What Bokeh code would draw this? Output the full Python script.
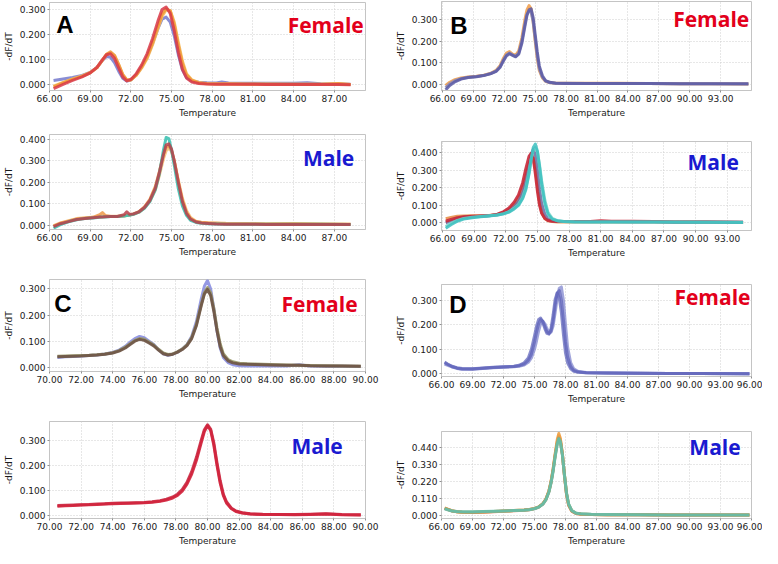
from bokeh.plotting import figure
from bokeh.layouts import row, column
from bokeh.models import Range1d, FixedTicker, PrintfTickFormatter, Label
from bokeh.embed import file_html
from bokeh.resources import INLINE

# ---------------- data ----------------
# Panel A - Female
T_AF = [66.3, 67.0, 67.7, 68.4, 69.0, 69.5, 69.9, 70.2, 70.5, 70.8, 71.1, 71.4, 71.7, 72.0, 72.4, 72.8, 73.2, 73.6,
        74.0, 74.3, 74.6, 74.9, 75.2, 75.5, 75.8, 76.1, 76.5, 77.0, 77.6, 78.3, 78.7, 79.2, 80.5, 82.0, 84.0, 85.0,
        86.0, 87.3, 88.2]
AF_BLUE = [0.018, 0.024, 0.030, 0.038, 0.050, 0.070, 0.098, 0.113, 0.110, 0.088, 0.055, 0.027, 0.016, 0.020, 0.040,
           0.072, 0.110, 0.165, 0.225, 0.262, 0.270, 0.250, 0.195, 0.120, 0.060, 0.030, 0.016, 0.011, 0.009, 0.008,
           0.012, 0.008, 0.007, 0.007, 0.007, 0.009, 0.005, 0.004, 0.003]
AF_LORANGE = [-0.005, 0.010, 0.024, 0.036, 0.050, 0.070, 0.100, 0.122, 0.128, 0.115, 0.080, 0.040, 0.020, 0.020, 0.038,
              0.068, 0.105, 0.160, 0.225, 0.272, 0.298, 0.296, 0.250, 0.170, 0.095, 0.045, 0.020, 0.010, 0.006, 0.005,
              0.005, 0.005, 0.004, 0.004, 0.003, 0.003, 0.003, 0.004, 0.002]
AF_ORANGE = [-0.008, 0.008, 0.022, 0.034, 0.048, 0.068, 0.098, 0.122, 0.132, 0.118, 0.082, 0.042, 0.020, 0.020, 0.040,
             0.072, 0.112, 0.168, 0.235, 0.282, 0.303, 0.295, 0.240, 0.158, 0.085, 0.040, 0.018, 0.008, 0.005, 0.004,
             0.004, 0.004, 0.003, 0.003, 0.003, 0.003, 0.003, 0.006, 0.002]
AF_RED = [-0.015, 0.002, 0.018, 0.032, 0.048, 0.070, 0.100, 0.120, 0.124, 0.105, 0.068, 0.032, 0.016, 0.022, 0.045,
          0.080, 0.125, 0.185, 0.255, 0.300, 0.310, 0.285, 0.215, 0.130, 0.062, 0.028, 0.012, 0.006, 0.004, 0.003,
          0.003, 0.003, 0.003, 0.002, 0.002, 0.002, 0.002, 0.002, 0.001]

# Panel A - Male
T_AM = [66.3, 66.8, 67.4, 68.0, 68.6, 69.2, 69.7, 69.9, 70.1, 70.5, 71.0, 71.5, 71.7, 71.9, 72.2, 72.6, 73.0, 73.4,
        73.8, 74.1, 74.4, 74.6, 74.8, 75.0, 75.2, 75.5, 75.8, 76.1, 76.4, 76.8, 77.2, 77.7, 78.3, 79.0, 80.5, 82.0,
        84.0, 86.0, 88.2]
AM_LORANGE = [-0.003, 0.010, 0.020, 0.030, 0.034, 0.036, 0.038, 0.039, 0.040, 0.041, 0.041, 0.043, 0.045, 0.047, 0.051,
              0.060, 0.080, 0.112, 0.165, 0.232, 0.310, 0.348, 0.360, 0.345, 0.300, 0.210, 0.125, 0.068, 0.035, 0.018,
              0.013, 0.011, 0.010, 0.008, 0.007, 0.006, 0.007, 0.005, 0.004]
AM_ORANGE = [-0.005, 0.008, 0.018, 0.028, 0.032, 0.036, 0.048, 0.058, 0.045, 0.040, 0.040, 0.042, 0.045, 0.047, 0.052,
             0.063, 0.085, 0.120, 0.180, 0.250, 0.330, 0.365, 0.370, 0.350, 0.300, 0.200, 0.115, 0.060, 0.030, 0.016,
             0.012, 0.010, 0.008, 0.006, 0.005, 0.005, 0.006, 0.005, 0.004]
AM_TEAL = [-0.015, 0.002, 0.015, 0.025, 0.030, 0.033, 0.036, 0.037, 0.038, 0.040, 0.040, 0.042, 0.044, 0.046, 0.050,
           0.060, 0.078, 0.110, 0.165, 0.240, 0.350, 0.410, 0.405, 0.350, 0.280, 0.170, 0.090, 0.045, 0.022, 0.012,
           0.008, 0.006, 0.005, 0.004, 0.004, 0.004, 0.004, 0.004, 0.003]
AM_RED = [-0.008, 0.006, 0.016, 0.026, 0.031, 0.034, 0.037, 0.038, 0.039, 0.040, 0.040, 0.048, 0.062, 0.050, 0.052,
          0.062, 0.082, 0.115, 0.172, 0.245, 0.330, 0.375, 0.380, 0.355, 0.300, 0.200, 0.110, 0.055, 0.028, 0.014,
          0.009, 0.007, 0.005, 0.004, 0.004, 0.003, 0.003, 0.003, 0.003]

# Panel B - Female
T_BF = [66.3, 66.7, 67.2, 67.8, 68.5, 69.3, 70.0, 70.7, 71.2, 71.6, 71.9, 72.2, 72.5, 72.8, 73.1, 73.4, 73.7, 74.0,
        74.2, 74.4, 74.6, 74.8, 75.0, 75.2, 75.4, 75.7, 76.0, 76.4, 77.0, 78.0, 80.0, 83.0, 86.0, 89.0, 92.0, 95.7]
BF_ORANGE = [-0.005, 0.010, 0.022, 0.030, 0.034, 0.038, 0.043, 0.052, 0.065, 0.088, 0.120, 0.145, 0.152, 0.140, 0.135,
             0.155, 0.215, 0.300, 0.345, 0.365, 0.350, 0.290, 0.200, 0.120, 0.065, 0.030, 0.015, 0.009, 0.006, 0.005,
             0.005, 0.005, 0.004, 0.003, 0.003, 0.002]
BF_GREY = [-0.015, 0.003, 0.017, 0.027, 0.033, 0.037, 0.042, 0.051, 0.062, 0.083, 0.112, 0.136, 0.145, 0.137, 0.130,
           0.145, 0.200, 0.280, 0.325, 0.340, 0.335, 0.290, 0.210, 0.130, 0.072, 0.034, 0.016, 0.009, 0.006, 0.005,
           0.004, 0.004, 0.004, 0.003, 0.003, 0.002]
BF_BLUE = [-0.025, -0.005, 0.012, 0.025, 0.032, 0.036, 0.041, 0.050, 0.060, 0.080, 0.108, 0.132, 0.142, 0.135, 0.128,
           0.140, 0.190, 0.270, 0.320, 0.345, 0.350, 0.310, 0.230, 0.150, 0.085, 0.040, 0.018, 0.010, 0.006, 0.004,
           0.004, 0.004, 0.004, 0.003, 0.003, 0.003]

# Panel B - Male
T_BM = [66.3, 66.8, 67.4, 68.0, 68.8, 69.6, 70.4, 71.2, 71.8, 72.3, 72.8, 73.2, 73.6, 73.9, 74.2, 74.4, 74.6, 74.8,
        75.0, 75.2, 75.4, 75.7, 76.0, 76.4, 76.9, 77.5, 78.5, 80.0, 81.0, 82.0, 84.0, 86.0, 88.0, 91.0, 94.5]
BM_ORANGE = [0.025, 0.032, 0.038, 0.040, 0.041, 0.041, 0.042, 0.048, 0.060, 0.077, 0.105, 0.140, 0.200, 0.270, 0.340,
             0.370, 0.370, 0.310, 0.210, 0.120, 0.060, 0.025, 0.012, 0.008, 0.006, 0.006, 0.006, 0.006, 0.006, 0.006,
             0.005, 0.005, 0.005, 0.004, 0.003]
BM_GREY = [0.000, 0.012, 0.025, 0.032, 0.036, 0.039, 0.041, 0.047, 0.057, 0.070, 0.095, 0.125, 0.175, 0.240, 0.330,
           0.390, 0.420, 0.390, 0.300, 0.190, 0.110, 0.050, 0.022, 0.013, 0.010, 0.009, 0.009, 0.008, 0.009, 0.008,
           0.007, 0.007, 0.006, 0.005, 0.004]
BM_RED = [0.010, 0.020, 0.030, 0.035, 0.038, 0.040, 0.042, 0.050, 0.065, 0.085, 0.120, 0.160, 0.230, 0.310, 0.380,
          0.398, 0.370, 0.280, 0.180, 0.100, 0.055, 0.025, 0.014, 0.010, 0.008, 0.008, 0.008, 0.009, 0.013, 0.010,
          0.010, 0.008, 0.006, 0.005, 0.004]
BM_LTEAL = [-0.020, -0.002, 0.015, 0.026, 0.032, 0.037, 0.041, 0.046, 0.053, 0.064, 0.085, 0.105, 0.145, 0.200, 0.290,
            0.365, 0.415, 0.430, 0.405, 0.330, 0.240, 0.130, 0.060, 0.026, 0.013, 0.009, 0.007, 0.006, 0.006, 0.006,
            0.006, 0.005, 0.005, 0.004, 0.004]
BM_TEAL = [-0.030, -0.010, 0.010, 0.022, 0.030, 0.035, 0.040, 0.045, 0.052, 0.062, 0.080, 0.100, 0.140, 0.190, 0.280,
           0.360, 0.430, 0.450, 0.410, 0.320, 0.220, 0.110, 0.050, 0.022, 0.012, 0.008, 0.006, 0.005, 0.005, 0.005,
           0.005, 0.005, 0.004, 0.004, 0.003]

# Panel C - Female
T_CF = [70.5, 71.0, 71.5, 72.0, 72.5, 73.0, 73.5, 74.0, 74.4, 74.8, 75.1, 75.4, 75.7, 76.0, 76.3, 76.6, 76.9, 77.2,
        77.5, 77.8, 78.1, 78.4, 78.7, 79.0, 79.3, 79.6, 79.8, 80.0, 80.2, 80.4, 80.6, 80.8, 81.0, 81.3, 81.6, 82.0,
        82.5, 83.0, 84.0, 85.0, 85.8, 86.5, 87.5, 88.5, 89.7]
CF_BLUE = [0.038, 0.040, 0.041, 0.043, 0.045, 0.047, 0.051, 0.057, 0.066, 0.080, 0.096, 0.110, 0.118, 0.113, 0.100,
           0.087, 0.068, 0.052, 0.046, 0.050, 0.058, 0.070, 0.087, 0.118, 0.175, 0.260, 0.310, 0.332, 0.300, 0.225,
           0.140, 0.075, 0.038, 0.018, 0.010, 0.006, 0.005, 0.005, 0.005, 0.005, 0.010, 0.005, 0.004, 0.004, 0.003]
CF_OLIVE = [0.042, 0.043, 0.044, 0.045, 0.046, 0.048, 0.051, 0.056, 0.064, 0.077, 0.090, 0.103, 0.110, 0.107, 0.097,
            0.085, 0.069, 0.055, 0.049, 0.051, 0.059, 0.070, 0.086, 0.114, 0.165, 0.240, 0.285, 0.305, 0.285, 0.225,
            0.150, 0.090, 0.052, 0.030, 0.021, 0.016, 0.014, 0.013, 0.011, 0.009, 0.008, 0.007, 0.006, 0.005, 0.004]
CF_BROWN = [0.040, 0.041, 0.042, 0.043, 0.045, 0.047, 0.050, 0.055, 0.062, 0.074, 0.087, 0.100, 0.107, 0.103, 0.093,
            0.082, 0.066, 0.052, 0.047, 0.050, 0.058, 0.068, 0.083, 0.110, 0.160, 0.235, 0.280, 0.298, 0.275, 0.215,
            0.140, 0.080, 0.045, 0.025, 0.017, 0.013, 0.012, 0.011, 0.009, 0.008, 0.008, 0.006, 0.005, 0.005, 0.004]

# Panel C - Male
T_CM = [70.5, 71.0, 71.5, 72.0, 72.5, 73.0, 73.5, 74.0, 74.5, 75.0, 75.5, 76.0, 76.5, 77.0, 77.4, 77.8, 78.1, 78.4,
        78.7, 79.0, 79.3, 79.6, 79.8, 80.0, 80.2, 80.4, 80.6, 80.8, 81.0, 81.2, 81.5, 81.8, 82.2, 82.7, 83.5, 84.5,
        85.5, 86.5, 87.5, 88.5, 89.7]
CM_RED1 = [0.037, 0.039, 0.040, 0.042, 0.043, 0.044, 0.046, 0.047, 0.048, 0.049, 0.050, 0.051, 0.053, 0.057, 0.062,
           0.070, 0.080, 0.097, 0.125, 0.165, 0.220, 0.290, 0.335, 0.358, 0.340, 0.280, 0.200, 0.130, 0.080, 0.050,
           0.028, 0.016, 0.010, 0.006, 0.004, 0.004, 0.003, 0.004, 0.006, 0.003, 0.002]
CM_RED2 = [0.040, 0.041, 0.042, 0.043, 0.044, 0.046, 0.047, 0.049, 0.050, 0.050, 0.051, 0.052, 0.055, 0.059, 0.065,
           0.074, 0.085, 0.103, 0.132, 0.175, 0.232, 0.300, 0.342, 0.362, 0.345, 0.290, 0.210, 0.140, 0.085, 0.055,
           0.030, 0.018, 0.011, 0.007, 0.005, 0.004, 0.004, 0.005, 0.007, 0.004, 0.003]

# Panel D - Female
T_DF = [66.3, 66.6, 67.0, 67.5, 68.0, 69.0, 70.0, 71.0, 72.0, 73.0, 73.5, 74.0, 74.4, 74.7, 75.0, 75.2, 75.4, 75.6,
        75.8, 76.0, 76.2, 76.4, 76.6, 76.8, 77.0, 77.2, 77.4, 77.6, 77.8, 78.0, 78.2, 78.5, 78.8, 79.2, 80.0, 82.0,
        85.0, 88.0, 91.0, 95.8]
DF_B1 = [0.045, 0.038, 0.030, 0.023, 0.020, 0.020, 0.023, 0.026, 0.028, 0.030, 0.033, 0.040, 0.055, 0.080, 0.130,
         0.170, 0.205, 0.222, 0.215, 0.195, 0.172, 0.165, 0.175, 0.215, 0.280, 0.330, 0.340, 0.300, 0.220, 0.130,
         0.070, 0.030, 0.014, 0.008, 0.004, 0.003, 0.002, 0.001, 0.001, 0.000]
DF_B2 = [0.040, 0.035, 0.028, 0.022, 0.019, 0.019, 0.022, 0.025, 0.027, 0.029, 0.031, 0.036, 0.047, 0.065, 0.100,
         0.135, 0.175, 0.205, 0.215, 0.205, 0.185, 0.170, 0.170, 0.195, 0.250, 0.310, 0.350, 0.355, 0.300, 0.200,
         0.110, 0.045, 0.020, 0.010, 0.005, 0.003, 0.002, 0.001, 0.001, 0.000]
DF_B3 = [0.048, 0.040, 0.031, 0.025, 0.022, 0.021, 0.024, 0.027, 0.029, 0.031, 0.035, 0.045, 0.065, 0.100, 0.155,
         0.195, 0.222, 0.228, 0.210, 0.185, 0.165, 0.162, 0.185, 0.240, 0.305, 0.330, 0.310, 0.250, 0.160, 0.085,
         0.045, 0.020, 0.010, 0.006, 0.004, 0.003, 0.002, 0.001, 0.001, 0.000]

# Panel D - Male
T_DM = [66.3, 66.6, 67.0, 67.5, 68.0, 69.0, 70.0, 71.0, 72.0, 73.0, 74.0, 74.5, 75.0, 75.4, 75.8, 76.1, 76.4, 76.6,
        76.8, 77.0, 77.2, 77.35, 77.5, 77.7, 77.9, 78.1, 78.3, 78.6, 79.0, 79.5, 80.5, 82.0, 85.0, 88.0, 91.0, 95.8]
DM_RED = [0.045, 0.038, 0.029, 0.023, 0.020, 0.019, 0.021, 0.024, 0.027, 0.030, 0.034, 0.037, 0.044, 0.054, 0.073,
          0.103, 0.157, 0.215, 0.295, 0.390, 0.475, 0.515, 0.490, 0.395, 0.255, 0.135, 0.066, 0.028, 0.013, 0.008,
          0.006, 0.005, 0.004, 0.003, 0.002, 0.002]
DM_ORANGE = [0.048, 0.040, 0.030, 0.024, 0.021, 0.020, 0.022, 0.025, 0.028, 0.031, 0.035, 0.038, 0.045, 0.055, 0.075,
             0.105, 0.160, 0.220, 0.300, 0.400, 0.490, 0.530, 0.500, 0.400, 0.260, 0.140, 0.070, 0.030, 0.014, 0.009,
             0.006, 0.005, 0.004, 0.003, 0.002, 0.002]
DM_OLIVE = [0.046, 0.039, 0.030, 0.024, 0.022, 0.021, 0.023, 0.026, 0.028, 0.031, 0.035, 0.038, 0.044, 0.054, 0.074,
            0.102, 0.155, 0.212, 0.290, 0.385, 0.465, 0.500, 0.480, 0.395, 0.262, 0.142, 0.072, 0.031, 0.014, 0.009,
            0.006, 0.005, 0.004, 0.003, 0.002, 0.002]
DM_TEAL = [0.042, 0.036, 0.029, 0.025, 0.023, 0.023, 0.025, 0.027, 0.029, 0.031, 0.034, 0.037, 0.043, 0.053, 0.072,
           0.100, 0.152, 0.210, 0.285, 0.380, 0.460, 0.495, 0.475, 0.390, 0.260, 0.145, 0.075, 0.032, 0.015, 0.010,
           0.007, 0.006, 0.005, 0.003, 0.003, 0.002]

# tick values
XT_A = [66, 69, 72, 75, 78, 81, 84, 87]
XT_B = [66, 69, 72, 75, 78, 81, 84, 87, 90, 93]
XT_C = [70, 72, 74, 76, 78, 80, 82, 84, 86, 88, 90]
XT_D = [66, 69, 72, 75, 78, 81, 84, 87, 90, 93, 96]
YT_3 = [0.0, 0.1, 0.2, 0.3]
YT_4 = [0.0, 0.1, 0.2, 0.3, 0.4]
YT_DM = [0.0, 0.11, 0.22, 0.33, 0.44]

# ---------------- layout helpers ----------------
SX = 762 / 778
SY = 548 / 564
RED_TXT = "#e3001b"
BLUE_TXT = "#1a1ad0"
TAG_SIZE = "21px"
LETTER_SIZE = "24px"


def panel(w, h, lrtb, xr, yr, xt, yt, series):
    l, r, t, b = lrtb
    p = figure(width=round(w * SX), height=round(h * SY),
               x_range=Range1d(*xr), y_range=Range1d(*yr),
               output_backend="svg", toolbar_location=None,
               min_border_left=round(l * SX), min_border_right=round(r * SX),
               min_border_top=round(t * SY), min_border_bottom=round(b * SY))
    p.background_fill_color = "white"
    p.border_fill_color = "white"
    p.outline_line_color = "#c4c4c4"
    p.xaxis.ticker = FixedTicker(ticks=xt)
    p.yaxis.ticker = FixedTicker(ticks=yt)
    p.xaxis.formatter = PrintfTickFormatter(format="%.2f")
    p.yaxis.formatter = PrintfTickFormatter(format="%.3f")
    p.xaxis.axis_label = "Temperature"
    p.yaxis.axis_label = "-dF/dT"
    for ax in (p.xaxis, p.yaxis):
        ax.axis_line_color = "#c4c4c4"
        ax.major_tick_line_color = "#909090"
        ax.minor_tick_line_color = None
        ax.major_tick_out = 2
        ax.major_tick_in = 0
        ax.major_label_standoff = 2
        ax.axis_label_standoff = 3
        ax.major_label_text_font = "DejaVu Sans"
        ax.major_label_text_font_size = "9px"
        ax.major_label_text_color = "#1a1a1a"
        ax.axis_label_text_font = "DejaVu Sans"
        ax.axis_label_text_font_size = "9px"
        ax.axis_label_text_font_style = "normal"
        ax.axis_label_text_color = "#1a1a1a"
    p.xgrid.grid_line_color = "#cfcfcf"
    p.ygrid.grid_line_color = "#cfcfcf"
    p.xgrid.grid_line_dash = "1 2"
    p.ygrid.grid_line_dash = "1 2"
    for xs, ys, c, a in series:
        p.line(xs, ys, line_color=c, line_width=3, line_alpha=a, line_join="round")
    return p


def tag(p, x, y, text, color, size, font, align):
    p.add_layout(Label(x=x, y=y, text=text, text_color=color, text_font=font,
                       text_font_size=size, text_font_style="bold",
                       text_align=align, text_baseline="alphabetic"))


# ---------------- panels ----------------
af = panel(388, 125, (46, 8, 2, 32), (66, 89.3), (-0.022, 0.328), XT_A, YT_3, [
    (T_AF, AF_BLUE, "#7479cc", 0.85),
    (T_AF, AF_LORANGE, "#f6bd5e", 0.9),
    (T_AF, AF_ORANGE, "#f09a3c", 0.9),
    (T_AF, AF_RED, "#d83848", 0.85)])
tag(af, 66.49, 0.240, "A", "black", LETTER_SIZE, "Liberation Sans", "left")
tag(af, 89.17, 0.240, "Female", RED_TXT, TAG_SIZE, "Open Sans", "right")

am = panel(388, 147, (46, 8, 13, 36), (66, 89.3), (-0.021, 0.424), XT_A, YT_4, [
    (T_AM, AM_LORANGE, "#f5c27c", 0.9),
    (T_AM, AM_ORANGE, "#ee9f52", 0.9),
    (T_AM, AM_TEAL, "#3fc2b2", 0.9),
    (T_AM, AM_RED, "#b8404a", 0.85)])
tag(am, 88.47, 0.315, "Male", BLUE_TXT, TAG_SIZE, "Open Sans", "right")

cf = panel(388, 146, (45, 15, 15, 36), (70, 90), (-0.016, 0.336), XT_C, YT_3, [
    (T_CF, CF_BLUE, "#8a8ee0", 0.9),
    (T_CF, CF_OLIVE, "#9a9a6a", 0.9),
    (T_CF, CF_BROWN, "#6e5446", 0.9)])
tag(cf, 70.3, 0.243, "C", "black", LETTER_SIZE, "Liberation Sans", "left")
tag(cf, 89.5, 0.243, "Female", RED_TXT, TAG_SIZE, "Open Sans", "right")

cm = panel(388, 146, (46, 8, 15, 31), (70, 90), (-0.012, 0.375), XT_C, YT_3, [
    (T_CM, CM_RED2, "#c83048", 0.9),
    (T_CM, CM_RED1, "#d2233c", 0.9)])
tag(cm, 88.56, 0.278, "Male", BLUE_TXT, TAG_SIZE, "Open Sans", "right")

bf = panel(390, 125, (61, 8, 1, 32), (65.9, 96), (-0.028, 0.384), XT_B, YT_3, [
    (T_BF, BF_ORANGE, "#f0a050", 0.9),
    (T_BF, BF_GREY, "#8a8ab8", 0.85),
    (T_BF, BF_BLUE, "#5a5aa6", 0.85)])
tag(bf, 66.75, 0.273, "B", "black", LETTER_SIZE, "Liberation Sans", "left")
tag(bf, 95.78, 0.304, "Female", RED_TXT, TAG_SIZE, "Open Sans", "right")

bm = panel(390, 147, (61, 10, 21, 35), (65.9, 95.3), (-0.043, 0.465), XT_B, YT_4, [
    (T_BM, BM_ORANGE, "#e8904a", 0.9),
    (T_BM, BM_GREY, "#6a6aa0", 0.85),
    (T_BM, BM_RED, "#c8283a", 0.9),
    (T_BM, BM_LTEAL, "#72d2c8", 0.85),
    (T_BM, BM_TEAL, "#3cbfc0", 0.85)])
tag(bm, 94.1, 0.348, "Male", BLUE_TXT, TAG_SIZE, "Open Sans", "right")

df = panel(390, 146, (62, 10, 21, 31), (66, 96), (-0.011, 0.365), XT_D, YT_3, [
    (T_DF, DF_B2, "#8a8ed2", 0.8),
    (T_DF, DF_B3, "#6c70c0", 0.8),
    (T_DF, DF_B1, "#6468bc", 0.8)])
tag(df, 66.75, 0.285, "D", "black", LETTER_SIZE, "Liberation Sans", "left")
tag(df, 95.9, 0.313, "Female", RED_TXT, TAG_SIZE, "Open Sans", "right")

dm = panel(390, 146, (62, 11, 26, 29), (66, 96), (-0.02, 0.543), XT_D, YT_DM, [
    (T_DM, DM_RED, "#e06a48", 0.9),
    (T_DM, DM_ORANGE, "#f0a040", 0.9),
    (T_DM, DM_OLIVE, "#9aa070", 0.85),
    (T_DM, DM_TEAL, "#5cc0b0", 0.8)])
tag(dm, 94.95, 0.444, "Male", BLUE_TXT, TAG_SIZE, "Open Sans", "right")

layout = row(column(af, am, cf, cm), column(bf, bm, df, dm))

open("out.html", "w").write(file_html(layout, INLINE))
